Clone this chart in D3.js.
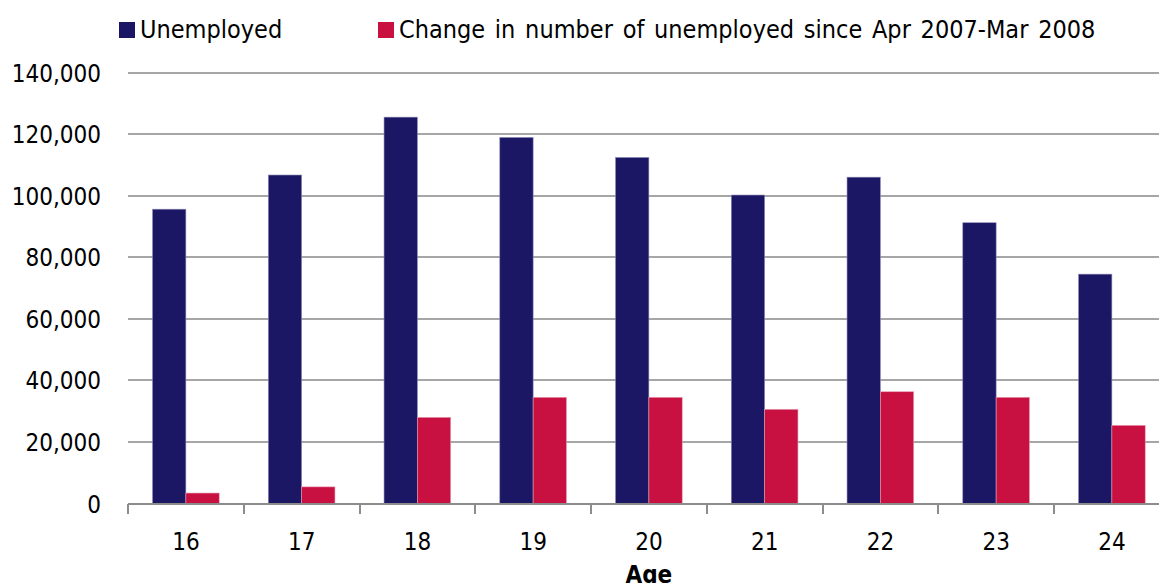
<html lang="en">
<head>
<meta charset="utf-8">
<title>Unemployed by age</title>
<style>
	body { margin: 0; background-color: white; overflow: hidden; }
	svg { display: block; background-color: white; }
	text { font-family: "DejaVu Sans Condensed", "DejaVu Sans", sans-serif; fill: #000; }
	.grid line { stroke: #a6a6a6; stroke-width: 2; shape-rendering: crispEdges; }
	.x.axis path, .x.axis line { fill: none; stroke: #8c8c8c; stroke-width: 2; shape-rendering: crispEdges; }
</style>
</head>
<body>
<script src="https://cdnjs.cloudflare.com/ajax/libs/d3/7.8.5/d3.min.js"></script>
<script>
// data
var ages = ["16", "17", "18", "19", "20", "21", "22", "23", "24"];
var unemployed = [95600, 106700, 125500, 118900, 112400, 100200, 106000, 91200, 74500];
var change = [3400, 5400, 28000, 34500, 34500, 30600, 36300, 34500, 25400];
var seriesNames = ["Unemployed", "Change in number of unemployed since Apr 2007-Mar 2008"];
var yTicks = [0, 20000, 40000, 60000, 80000, 100000, 120000, 140000];

var colors = ["#1b1765", "#c81041"];

var fullWidth = 1159, fullHeight = 583;
var margin = {top: 72.5, left: 128, bottom: 583 - 503.5};
var plotRight = 1169.75; // plot runs past the right edge of the picture

var svg = d3.select("body").append("svg")
	.attr("width", fullWidth)
	.attr("height", fullHeight);

var x = d3.scaleBand().domain(ages).range([margin.left, plotRight]);
var inner = d3.scaleBand().domain([0, 1]).range([0, x.bandwidth() * 0.576])
var y = d3.scaleLinear().domain([0, 140000]).range([fullHeight - margin.bottom, margin.top]);
var groupOffset = (x.bandwidth() - inner.range()[1]) / 2;

// gridlines
svg.append("g").attr("class", "grid")
	.selectAll("line")
	.data(yTicks.slice(1))
	.enter().append("line")
	.attr("x1", margin.left).attr("x2", plotRight)
	.attr("y1", function(d) { return y(d); })
	.attr("y2", function(d) { return y(d); });

// y labels (no axis line in the original)
svg.append("g")
	.selectAll("text")
	.data(yTicks)
	.enter().append("text")
	.attr("x", 101)
	.attr("y", function(d) { return y(d); })
	.attr("dy", "0.38em")
	.attr("text-anchor", "end")
	.style("font-size", "24px")
	.text(d3.format(","));

// bars
var table = ages.map(function(a, i) { return {age: a, vals: [unemployed[i], change[i]]}; });
var groups = svg.append("g").selectAll("g")
	.data(table)
	.enter().append("g")
	.attr("transform", function(d) { return "translate(" + (x(d.age) + groupOffset) + ",0)"; });

groups.selectAll("rect")
	.data(function(d) { return d.vals.map(function(v, k) { return {k: k, v: v}; }); })
	.enter().append("rect")
	.attr("x", function(d) { return inner(d.k); })
	.attr("width", inner.bandwidth())
	.attr("y", function(d) { return y(d.v); })
	.attr("height", function(d) { return y(0) - y(d.v); })
	.attr("fill", function(d) { return colors[d.k]; })
	.attr("stroke", function(d) { return d.k === 0 ? "#8d8ab5" : "#e8a0b4"; })
	.attr("stroke-width", 0.6);

// x axis with ticks between categories
var xAxisG = svg.append("g").attr("class", "x axis");
xAxisG.append("line")
	.attr("x1", margin.left).attr("x2", plotRight)
	.attr("y1", y(0)).attr("y2", y(0));
xAxisG.selectAll("line.tick")
	.data(ages)
	.enter().append("line")
	.attr("class", "tick")
	.attr("x1", function(d) { return x(d); })
	.attr("x2", function(d) { return x(d); })
	.attr("y1", y(0)).attr("y2", y(0) + 10);
xAxisG.selectAll("text")
	.data(ages)
	.enter().append("text")
	.attr("x", function(d) { return x(d) + x.bandwidth() / 2; })
	.attr("y", 550)
	.attr("text-anchor", "middle")
	.style("font-size", "24px")
	.text(function(d) { return d; });

svg.append("text")
	.attr("x", (margin.left + plotRight) / 2)
	.attr("y", 582.5)
	.attr("text-anchor", "middle")
	.style("font-size", "24px")
	.style("font-weight", "bold")
	.text("Age");

// legend
var legendX = [119, 378];
var legend = svg.append("g").selectAll("g")
	.data(seriesNames)
	.enter().append("g")
	.attr("transform", function(d, i) { return "translate(" + legendX[i] + ",22)"; });
legend.append("rect")
	.attr("width", 16).attr("height", 16)
	.attr("fill", function(d, i) { return colors[i]; });
legend.append("text")
	.attr("x", 21)
	.attr("y", 15.5)
	.style("font-size", "25px")
	.style("word-spacing", "2.6px")
	.text(function(d) { return d; });
</script>
</body>
</html>
